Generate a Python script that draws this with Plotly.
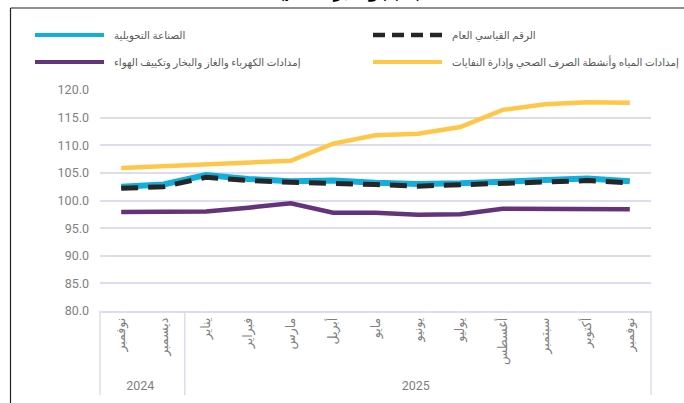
import plotly.graph_objects as go

years = ["2024", "2024"] + ["2025"] * 11
months = ["نوفمبر", "ديسمبر", "يناير", "فبراير", "مارس", "أبريل", "مايو",
          "يونيو", "يوليو", "أغسطس", "سبتمبر", "أكتوبر", "نوفمبر"]

manufacturing = [102.5, 102.9, 104.6, 103.9, 103.5, 103.6, 103.2, 103.0, 103.1, 103.3, 103.7, 104.0, 103.5]
general_index = [102.2, 102.5, 104.2, 103.6, 103.3, 103.2, 102.9, 102.6, 102.8, 103.0, 103.3, 103.6, 103.2]
electricity = [97.9, 97.9, 98.0, 98.7, 99.5, 97.8, 97.8, 97.4, 97.5, 98.5, 98.5, 98.5, 98.4]
water = [105.9, 106.2, 106.5, 106.8, 107.2, 110.3, 111.8, 112.1, 113.3, 116.4, 117.4, 117.8, 117.7]

name_manufacturing = "الصناعة التحويلية"
name_general = "الرقم القياسي العام"
name_electricity = "إمدادات الكهرباء والغاز والبخار وتكييف الهواء"
name_water = "إمدادات المياه وأنشطة الصرف الصحي وإدارة النفايات"

W, H = 684, 403
L, R, T, B = 100, 33, 90, 92
pw, ph = W - L - R, H - T - B

def px_x(px):
    return (px - L) / pw

def px_y(py):
    return (H - B - py) / ph

# make repeated month names unique so the multicategory axis keeps chronological order
seen = {}
month_labels = []
for m in months:
    seen[m] = seen.get(m, 0) + 1
    month_labels.append(m + "\u200b" * (seen[m] - 1))

x = [years, month_labels]
n = len(months)

C_MAN, C_GEN, C_ELE, C_WAT = "#12AEDC", "#262626", "#643379", "#FFC748"
GEN_DASH = "17px,10px"

fig = go.Figure()
fig.add_trace(go.Scatter(x=x, y=water, name=name_water, mode="lines",
                         line=dict(color=C_WAT, width=4.5), showlegend=False))
fig.add_trace(go.Scatter(x=x, y=electricity, name=name_electricity, mode="lines",
                         line=dict(color=C_ELE, width=4.5), showlegend=False))
fig.add_trace(go.Scatter(x=x, y=manufacturing, name=name_manufacturing, mode="lines",
                         line=dict(color=C_MAN, width=6), showlegend=False))
fig.add_trace(go.Scatter(x=x, y=general_index, name=name_general, mode="lines",
                         line=dict(color=C_GEN, width=5, dash=GEN_DASH), showlegend=False))

grid = "#dedcf0"
shapes = [
    dict(type="line", xref="paper", yref="paper", x0=px_x(10.5), x1=px_x(10.5),
         y0=px_y(8), y1=px_y(420), line=dict(color="#222222", width=1.2)),
    dict(type="line", xref="paper", yref="paper", x0=px_x(10.5), x1=px_x(700),
         y0=px_y(8), y1=px_y(8), line=dict(color="#222222", width=1.2)),
]
# group dividers: both ends and every year change
bounds = [0] + [i for i in range(1, n) if years[i] != years[i - 1]] + [n]
for b in bounds:
    shapes.append(dict(type="line", xref="paper", yref="paper", x0=b / n, x1=b / n,
                       y0=0, y1=px_y(395), line=dict(color=grid, width=1.5)))

annotations = [
    dict(text="<b>(نوفمبر 2025م) (١٠)</b>", xref="paper", yref="paper",
         x=px_x(350), y=px_y(4), xanchor="center", yanchor="bottom", showarrow=False,
         font=dict(size=15, color="#000000")),
]

# custom legend (long line samples like the reference)
legend_items = [
    (name_manufacturing, C_MAN, 4, "solid", 35, 35),
    (name_general, C_GEN, 4.5, "12px,7px", 373, 35),
    (name_electricity, C_ELE, 4, "solid", 35, 62),
    (name_water, C_WAT, 4, "solid", 373, 62),
]
for text, color, width, dash, x0, yc in legend_items:
    shapes.append(dict(type="line", xref="paper", yref="paper",
                       x0=px_x(x0), x1=px_x(x0 + 69), y0=px_y(yc), y1=px_y(yc),
                       line=dict(color=color, width=width, dash=dash)))
    annotations.append(dict(text=text, xref="paper", yref="paper", x=px_x(x0 + 77), y=px_y(yc),
                            xanchor="left", yanchor="middle", showarrow=False,
                            font=dict(size=10.3, color="#595959")))

fig.update_layout(
    width=W, height=H,
    margin=dict(l=L, r=R, t=T, b=B),
    paper_bgcolor="white", plot_bgcolor="white",
    font=dict(family="Roboto, DejaVu Sans, sans-serif", color="#7f7f7f", size=12),
    showlegend=False,
    xaxis=dict(type="multicategory", range=[-0.5, n - 0.5], showgrid=False, showline=True,
               linecolor=grid, linewidth=1.5,
               tickangle=-90, showdividers=False,
               tickfont=dict(size=12.5, color="#7f7f7f"), ticks=""),
    yaxis=dict(range=[80, 120], dtick=5, tickformat=".1f", showgrid=True, gridcolor=grid,
               gridwidth=1.5, zeroline=False, showline=False, ticks="", ticklabelstandoff=10,
               tickfont=dict(size=12.5, color="#7f7f7f")),
    shapes=shapes,
    annotations=annotations,
)

fig.write_html("out.html")
